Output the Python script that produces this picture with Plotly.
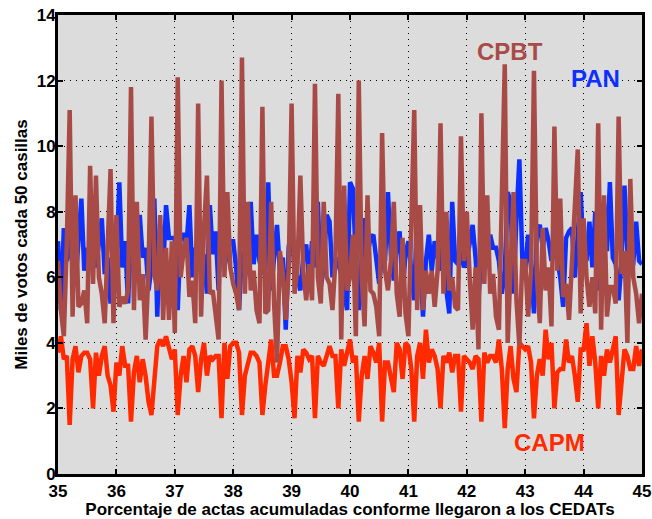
import numpy as np
import plotly.graph_objects as go

x_start, x_step = 35.0, 0.05

cpbt = [6.5, 5.0, 4.2, 7.0, 11.1, 4.8, 8.5, 5.1, 5.2, 5.6, 4.6, 9.4, 5.8, 9.1, 6.0, 5.5, 4.6, 7.0, 9.3, 4.6,
        7.9, 5.1, 5.4, 5.2, 5.6, 11.8, 5.0, 8.3, 5.3, 6.1, 4.1, 6.2, 10.9, 6.1, 5.6, 7.9, 4.7, 6.9, 4.7, 7.1,
        4.3, 12.1, 6.0, 6.8, 7.2, 5.4, 5.9, 4.6, 11.3, 4.8, 7.5, 9.1, 5.5, 5.6, 4.9, 4.1, 12.0, 6.0, 8.6, 6.3,
        5.8, 5.5, 5.0, 12.7, 5.5, 8.3, 5.6, 6.2, 5.0, 4.6, 11.2, 4.9, 5.0, 8.3, 5.2, 3.4, 6.8, 6.1, 4.7, 6.2,
        11.3, 5.5, 6.3, 9.1, 6.2, 5.3, 6.4, 5.3, 11.9, 6.0, 5.2, 8.3, 6.0, 5.8, 5.0, 6.5, 11.6, 4.1, 8.8, 5.6,
        6.0, 7.3, 4.2, 12.0, 6.0, 4.5, 8.5, 5.6, 5.5, 5.1, 4.2, 10.4, 6.2, 5.6, 6.5, 8.3, 5.5, 4.8, 7.2, 4.9,
        4.2, 7.5, 11.1, 5.0, 8.2, 5.0, 6.2, 5.5, 6.2, 5.1, 6.2, 10.7, 5.5, 8.0, 5.6, 6.0, 5.1, 5.0, 10.3, 6.5,
        8.0, 6.0, 4.4, 6.3, 3.8, 11.0, 5.8, 8.5, 5.5, 6.1, 4.8, 4.4, 8.0, 12.5, 4.0, 6.5, 8.6, 5.3, 3.9, 6.5,
        6.5, 4.8, 6.2, 12.3, 6.0, 4.6, 7.5, 5.6, 6.3, 4.5, 10.6, 6.2, 8.4, 5.4, 5.8, 4.7, 6.3, 8.0, 9.9, 4.9,
        7.8, 6.0, 5.1, 6.0, 4.9, 10.7, 4.4, 8.5, 4.8, 5.7, 5.7, 5.2, 10.9, 6.1, 6.8, 4.0, 9.0, 6.0, 5.5, 4.6, 5.5]

pan = [7.1, 5.0, 7.5, 6.5, 6.8, 8.4, 5.8, 7.0, 8.4, 6.2, 6.9, 6.3, 7.2, 6.3, 7.0, 7.8, 6.1, 6.6, 5.2, 6.5,
       6.5, 8.9, 6.3, 7.1, 5.2, 7.3, 6.2, 6.5, 7.9, 6.6, 6.9, 5.6, 6.3, 8.4, 4.8, 7.6, 6.2, 8.2, 7.2, 7.2,
       7.2, 5.0, 7.3, 7.3, 7.0, 8.2, 6.0, 6.9, 6.5, 6.3, 6.7, 5.5, 8.2, 6.7, 7.4, 5.6, 8.2, 6.3, 6.8, 7.1,
       7.1, 6.3, 5.0, 6.8, 6.0, 6.5, 8.3, 6.4, 7.3, 6.5, 6.1, 6.3, 8.9, 5.6, 6.5, 7.6, 6.2, 6.6, 4.4, 6.9,
       7.6, 6.2, 6.0, 5.6, 6.6, 7.0, 5.9, 7.1, 6.3, 8.3, 5.7, 6.3, 7.9, 7.7, 6.0, 6.6, 6.4, 6.1, 5.6, 5.0,
       8.9, 8.7, 6.5, 5.0, 6.6, 7.8, 6.7, 7.2, 7.3, 6.4, 5.8, 6.7, 6.5, 8.6, 6.7, 5.9, 7.0, 7.4, 5.5, 6.7,
       7.1, 6.2, 5.3, 8.2, 6.6, 4.8, 6.5, 7.3, 6.2, 7.1, 6.6, 6.2, 7.8, 5.6, 4.9, 8.3, 6.5, 6.4, 6.8, 6.3,
       6.5, 7.0, 7.6, 6.6, 5.3, 6.8, 8.1, 6.3, 7.3, 6.9, 6.9, 6.5, 5.5, 6.2, 8.6, 8.3, 5.5, 7.8, 9.6, 6.6,
       6.2, 7.3, 6.3, 4.9, 7.4, 7.6, 6.9, 7.5, 7.1, 6.5, 6.9, 6.5, 6.0, 5.1, 7.2, 7.4, 7.5, 6.0, 7.2, 8.6,
       6.6, 6.5, 7.7, 6.3, 8.0, 5.6, 8.2, 8.2, 6.8, 8.9, 6.6, 6.4, 5.3, 6.5, 8.8, 6.8, 6.1, 6.4, 7.7, 6.5, 6.4]

capm = [3.7, 4.2, 3.5, 3.6, 1.5, 3.5, 3.9, 3.1, 3.6, 3.7, 3.7, 3.5, 2.0, 3.7, 3.0, 3.6, 3.9, 3.0, 2.7, 1.9,
        3.4, 3.0, 3.9, 3.3, 3.3, 1.6, 3.1, 3.6, 2.8, 3.5, 3.0, 2.2, 1.8, 3.0, 3.9, 4.1, 3.9, 4.2, 3.9, 3.5,
        3.8, 1.8, 3.0, 3.6, 2.8, 3.8, 3.9, 3.6, 2.5, 3.5, 4.0, 3.0, 3.6, 3.5, 3.6, 3.6, 1.7, 4.0, 2.9, 3.9,
        4.0, 4.0, 3.7, 1.8, 3.0, 3.4, 3.7, 3.7, 3.6, 3.4, 1.8, 2.7, 3.3, 4.1, 3.0, 3.0, 3.4, 3.9, 3.9, 3.5,
        2.8, 1.7, 3.6, 3.1, 3.8, 3.7, 3.5, 3.6, 1.7, 3.6, 3.4, 3.3, 3.6, 3.9, 3.6, 3.6, 2.0, 3.8, 3.3, 3.7,
        4.1, 3.4, 3.6, 1.6, 3.0, 3.6, 2.9, 3.9, 3.7, 3.4, 4.0, 1.6, 3.4, 3.4, 3.0, 2.5, 4.0, 3.8, 2.9, 4.0,
        3.9, 3.2, 1.6, 3.6, 4.0, 2.9, 4.4, 3.4, 3.8, 3.6, 3.2, 2.0, 3.6, 3.4, 3.7, 3.1, 3.6, 3.6, 1.9, 3.6,
        3.5, 3.4, 3.2, 3.6, 3.5, 1.6, 3.7, 3.4, 3.6, 3.6, 3.4, 4.1, 3.2, 1.4, 3.2, 3.9, 2.9, 2.5, 4.0, 3.9,
        3.8, 3.9, 3.4, 1.7, 3.0, 3.5, 3.0, 4.4, 3.5, 4.0, 2.0, 3.1, 3.2, 3.2, 4.1, 3.4, 3.6, 3.0, 2.2, 3.8,
        3.8, 4.6, 3.3, 4.2, 3.4, 2.0, 3.6, 3.0, 3.8, 3.4, 3.8, 4.2, 1.8, 3.0, 3.8, 3.6, 3.2, 3.2, 3.9, 3.3, 3.8]

x_ticks = [35, 36, 37, 38, 39, 40, 41, 42, 43, 44, 45]
y_ticks = [0, 2, 4, 6, 8, 10, 12, 14]

x = np.round(x_start + x_step * np.arange(len(cpbt)), 3)

C_PAN = "#0d30ff"
C_CPBT = "#a84b47"
C_CAPM = "#ff2a00"
FONT = "Liberation Sans"
LW = 4.5

fig = go.Figure()
fig.add_trace(go.Scatter(x=x, y=capm, mode="lines", line=dict(color=C_CAPM, width=LW), name="CAPM"))
fig.add_trace(go.Scatter(x=x, y=pan, mode="lines", line=dict(color=C_PAN, width=LW), name="PAN"))
fig.add_trace(go.Scatter(x=x, y=cpbt, mode="lines", line=dict(color=C_CPBT, width=LW), name="CPBT"))

ann_font = dict(family=FONT, size=24, weight="bold")
fig.add_annotation(x=42.74, y=12.9, text="CPBT", showarrow=False, font=dict(ann_font, color=C_CPBT))
fig.add_annotation(x=44.2, y=12.05, text="PAN", showarrow=False, font=dict(ann_font, color=C_PAN))
fig.add_annotation(x=43.41, y=0.95, text="CAPM", showarrow=False, font=dict(ann_font, color=C_CAPM))

axis_common = dict(
    showline=True, linecolor="black", linewidth=3, mirror="ticks",
    ticks="inside", ticklen=5, tickwidth=1.5, tickcolor="black",
    showgrid=True, gridcolor="black", gridwidth=1, griddash="1px,5px",
    zeroline=False, automargin=False, ticklabeloverflow="allow",
    tickfont=dict(family=FONT, size=17, color="black", weight="bold"),
)

fig.update_layout(
    width=652, height=519,
    margin=dict(l=58, r=10, t=15, b=45),
    paper_bgcolor="white", plot_bgcolor="#dcdcdc",
    showlegend=False,
    xaxis=dict(axis_common, range=[35, 45], tickvals=x_ticks,
               title=dict(text="Porcentaje de actas acumuladas conforme llegaron a los CEDATs",
                          font=dict(family=FONT, size=17, color="black", weight="bold"), standoff=0)),
    yaxis=dict(axis_common, range=[0, 14], tickvals=y_ticks, ticklabelstandoff=-4,
               title=dict(text="Miles de votos cada 50 casillas",
                          font=dict(family=FONT, size=17, color="black", weight="bold"), standoff=5)),
)

fig.write_html("out.html")
